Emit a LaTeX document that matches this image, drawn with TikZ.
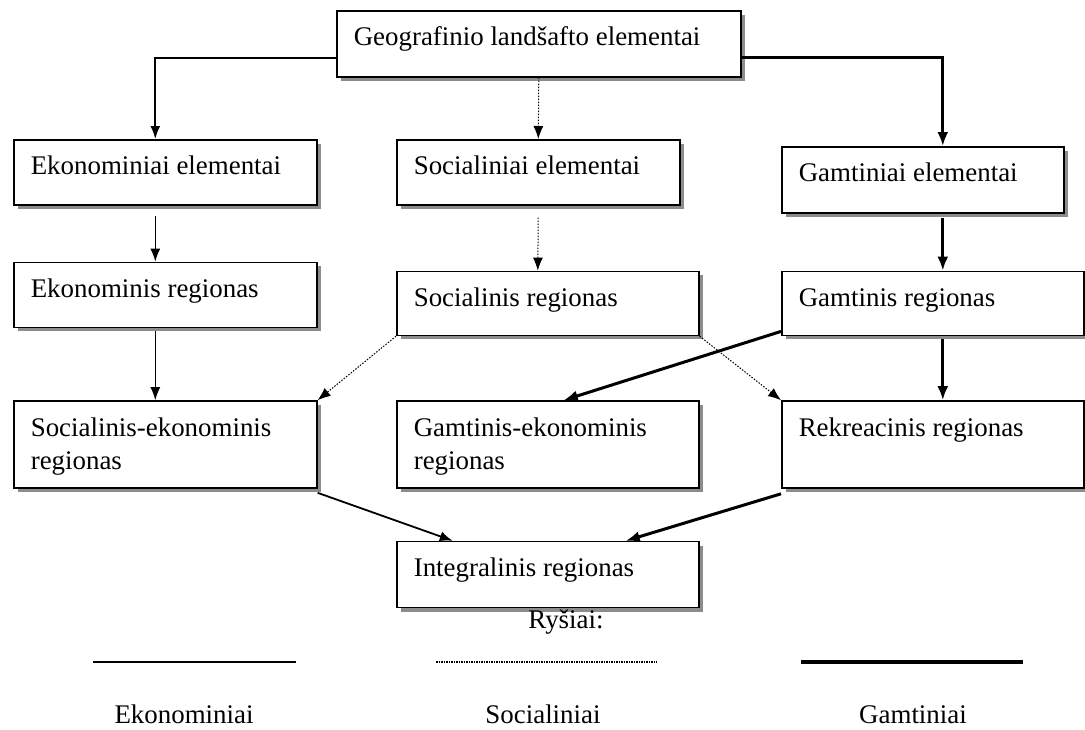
\documentclass[tikz,border=0pt]{standalone}
\usepackage{fontspec}
\setmainfont{Liberation Serif}
\usetikzlibrary{positioning,shadows,arrows.meta}
\newcommand{\boxtext}[3]{\begin{minipage}[c][#2][t]{#1}\raggedright\leftskip=17pt\rule{0pt}{35pt}#3\end{minipage}}

\begin{document}
\begin{tikzpicture}[x=1pt,y=-1pt,font=\fontsize{26.9pt}{33pt}\selectfont]
	\tikzstyle{region}=[rectangle, draw=black, line width=1.6pt, fill=white, inner sep=0pt, anchor=north west, drop shadow={shadow xshift=4pt, shadow yshift=-4pt, fill=black!45, opacity=1}]
	\tikzstyle{econ}=[-{Latex[length=13pt,width=10pt]}, line width=1.3pt]
	\tikzstyle{soc}=[-{Latex[length=13pt,width=10pt]}, line width=1pt, dash pattern=on 1.5pt off 1.5pt]
	\tikzstyle{nat}=[-{Latex[length=14pt,width=11pt]}, line width=3pt]
	\useasboundingbox (0,0) rectangle (1085,729);
	  \node[region] (geo) at (336,10) {\boxtext{404pt}{66pt}{Geografinio landšafto elementai}};
	  \node[region] (ekel) at (13,139) {\boxtext{303pt}{65pt}{Ekonominiai elementai}};
	  \node[region] (socel) at (396,139) {\boxtext{283pt}{65pt}{Socialiniai elementai}};
	  \node[region] (gamel) at (781,146) {\boxtext{282pt}{66pt}{Gamtiniai elementai}};
	  \node[region] (ekreg) [below=56pt of ekel.south west, anchor=north west] {\boxtext{303pt}{65pt}{Ekonominis regionas}};
	  \node[region] (socreg) [below=65pt of socel.south west, anchor=north west] {\boxtext{302pt}{64pt}{Socialinis regionas}};
	  \node[region] (gamreg) [below=57pt of gamel.south west, anchor=north west] {\boxtext{302pt}{64pt}{Gamtinis regionas}};
	  \node[region] (sekreg) [below=72pt of ekreg.south west, anchor=north west] {\boxtext{303pt}{87pt}{Socialinis-ekonominis\\regionas}};
	  \node[region] (gekreg) [below=64pt of socreg.south west, anchor=north west] {\boxtext{302pt}{87pt}{Gamtinis-ekonominis\\regionas}};
	  \node[region] (rekreg) [below=64pt of gamreg.south west, anchor=north west] {\boxtext{302pt}{87pt}{Rekreacinis regionas}};
	  \node[region] (intreg) [below=52pt of gekreg.south west, anchor=north west] {\boxtext{302pt}{66pt}{Integralinis regionas}};

	  \draw[econ, line width=1.8pt] ([yshift=-14pt]geo.west) -| ([xshift=-10pt]ekel.north);
	  \draw[nat] ([yshift=-14pt]geo.east) -| ([xshift=20pt]gamel.north);
	  \path (geo.south) edge [soc] (socel.north)
			([xshift=-10pt]ekel.south) edge [econ, shorten <=10pt] ([xshift=-10pt]ekreg.north)
			(socel.south) edge [soc, shorten <=12pt] ([xshift=-10pt]socreg.north)
			([xshift=20pt]gamel.south) edge [nat, shorten <=4pt] ([xshift=10pt]gamreg.north)
			([xshift=-10pt]ekreg.south) edge [econ, shorten <=3pt] ([xshift=-10pt]sekreg.north)
			(socreg.south west) edge [soc] (sekreg.north east)
			(socreg.south east) edge [soc] (rekreg.north west)
			([yshift=-28pt]gamreg.west) edge [nat] ([xshift=16pt]gekreg.north)
			([xshift=10pt]gamreg.south) edge [nat, shorten <=3pt] ([xshift=10pt]rekreg.north)
			([yshift=-4pt]sekreg.south east) edge [econ, line width=1.8pt] ([xshift=-95pt]intreg.north)
			([yshift=-5pt]rekreg.south west) edge [nat] ([xshift=78pt]intreg.north);

	  % legend
	  \node (rysiai) at (566,628) [anchor=base] {Ryšiai:};
	  \coordinate (ek1) at (93,662);  \coordinate (ek2) at (296,662);
	  \coordinate (so1) at (436,662); \coordinate (so2) at (657,662);
	  \coordinate (ga1) at (801,662); \coordinate (ga2) at (1023,662);
	  \draw[line width=2.2pt] (ek1) -- (ek2);
	  \draw[line width=1.6pt, dash pattern=on 1.5pt off 1pt] (so1) -- (so2);
	  \draw[line width=3.5pt] (ga1) -- (ga2);
	  \node (lekon) at (184,723) [anchor=base] {Ekonominiai};
	  \node (lsoc) at (543,723) [anchor=base] {Socialiniai};
	  \node (lgam) at (913,723) [anchor=base] {Gamtiniai};
\end{tikzpicture}
\end{document}
